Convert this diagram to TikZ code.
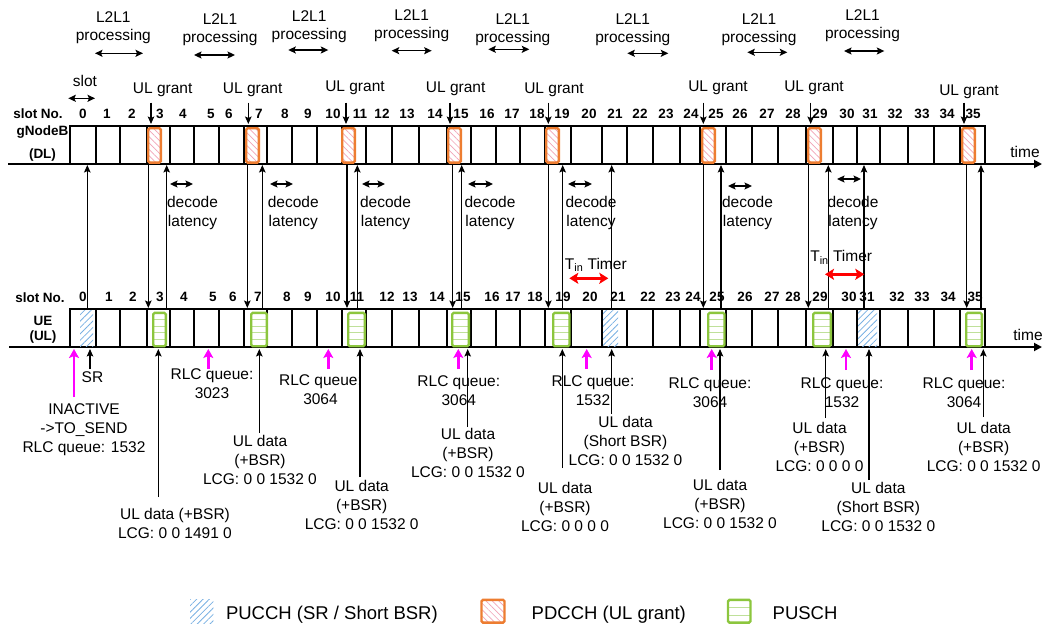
\documentclass[tikz,border=0pt]{standalone}
\usepackage{fontspec}
\setmainfont{Liberation Sans}
\usetikzlibrary{arrows.meta,patterns.meta}
\definecolor{pdorange}{HTML}{ED7D31}
\definecolor{pdpink}{HTML}{F2A3B7}
\definecolor{pugreen}{HTML}{8CC63E}
\definecolor{pulight}{HTML}{BFE09A}
\definecolor{pcblue}{HTML}{78B0E2}
\definecolor{qmag}{HTML}{FF00FF}
\definecolor{tred}{HTML}{FF0000}
\newcommand\pdcchbox[4]{\draw[pdcch] (#1,#2) rectangle (#3,#4);}
\newcommand\puschbox[5]{%
  \fill[white] (#1,#2) rectangle (#3,#4);
  \foreach \q in {1,...,#5}{\draw[pulight,line width=1pt] (#1,{#2+\q*(#4-#2)/(#5+1)}) -- (#3,{#2+\q*(#4-#2)/(#5+1)});}
  \draw[pusch] (#1,#2) rectangle (#3,#4);}
\newcommand\pucchbox[4]{\path[pucch] (#1,#2) rectangle (#3,#4);}
\def\bounds{70,95.5,120,146.7,170,194,218.7,244,267,292,316.7,341.5,366,391.7,419,446.7,471,495.7,520,545,570.5,601.7,626.7,653,680,700,726,751.7,777.7,805.5,832.5,856.7,880,907.7,934,959.5,985}
\begin{document}
\begin{tikzpicture}[x=1pt,y=-1pt,
  every node/.style={inner sep=0pt,outer sep=0pt},
  txt/.style={font=\fontsize{15.5}{19}\selectfont,align=center},
  bold/.style={font=\bfseries\fontsize{13.5}{16}\selectfont},
  legtxt/.style={font=\fontsize{18.5}{20}\selectfont,anchor=base west},
  grid/.style={line width=2pt},
  axis/.style={line width=1.8pt,-{Triangle[length=8pt,width=8pt]}},
  conn/.style={line width=1.3pt,-{Stealth[length=7.5pt,width=6.5pt,inset=1.5pt]}},
  dbl/.style={line width=1.4pt,{Stealth[length=7.5pt,width=7pt,inset=1.5pt]}-{Stealth[length=7.5pt,width=7pt,inset=1.5pt]}},
  magarr/.style={draw=qmag,line width=2.8pt,-{Stealth[length=9pt,width=10pt,inset=2pt]}},
  redarr/.style={draw=tred,line width=2.8pt,{Stealth[length=9pt,width=11pt,inset=2pt]}-{Stealth[length=9pt,width=11pt,inset=2pt]}},
  pdcch/.style={draw=pdorange,line width=2.4pt,rounded corners=1.5pt,preaction={fill=white},pattern={Lines[angle=-45,distance=4.5pt,line width=0.7pt]},pattern color=pdpink},
  pusch/.style={draw=pugreen,line width=2.4pt,rounded corners=1.5pt},
  pucch/.style={pattern={Lines[angle=45,distance=4.5pt,line width=0.8pt]},pattern color=pcblue},
]
\useasboundingbox (0,0) rectangle (1045,624);

% ---- slot grids and axes
\foreach \b in \bounds {\draw[grid] (\b,126) -- (\b,164); \draw[grid] (\b,309) -- (\b,347);}
\draw[grid] (69,126) -- (986,126);
\draw[grid] (69,309) -- (986,309);
\coordinate (dlA) at (8,164); \coordinate (dlB) at (1042,164);
\coordinate (ulA) at (9,347); \coordinate (ulB) at (1042,347);
\draw[axis] (dlA) -- (dlB);
\draw[axis] (ulA) -- (ulB);
\node[txt] (timeDL) at (1025,152) {time};
\node[txt] (timeUL) at (1028,335) {time};

% ---- row labels
\node[bold] (slotDL) at (38,113.8) {slot No.};
\node[bold] (slotUL) at (40,297.2) {slot No.};
\node[bold] (gnb) at (42.5,132) {gNodeB};
\node[bold] (gnbdl) at (42.5,155) {(DL)};
\node[bold] (ue) at (43,321) {UE};
\node[bold] (ueul) at (43,337.5) {(UL)};

\foreach \n/\x in {0/83,1/107,2/132,3/160,4/183,5/211,6/229,7/259,8/285,9/308,10/333,11/360,12/382,13/407,14/435,15/461,16/487,17/512,18/537,19/562,20/589,21/615,22/640,23/666,24/691,25/716,26/740,27/767,28/793,29/820,30/847,31/870,32/895,33/922,34/947,35/973}
  {\node[bold] (dn\n) at (\x,113.8) {\n};}
\foreach \n/\x in {0/83,1/109,2/133,3/160,4/184,5/213,6/233,7/258,8/287,9/308,10/333,11/357,12/387,13/410,14/437,15/463,16/492,17/513,18/535,19/563,20/590,21/618,22/648,23/673,24/693,25/717,26/745,27/772,28/793,29/820,30/849,31/867,32/897,33/922,34/948,35/975}
  {\node[bold] (un\n) at (\x,297.2) {\n};}

% ---- slot duration
\node[txt] (slotlbl) at (85,80.5) {slot};
\coordinate (sla) at (68.3,98.3); \coordinate (slb) at (95,98.3);
\draw[dbl] (sla) -- (slb);

% ---- L2L1 processing
\foreach \i/\x/\ym/\xa/\xb/\ay in {1/113.3/27.2/95/143/53.3, 2/220/30/194/235/55, 3/309.2/26.2/288.3/328.3/50, 4/411.7/25.8/391.7/431.7/50.7, 5/512.8/29.2/488.3/529.3/49.3, 6/632.8/30/627.3/668.3/53.3, 7/759/29.2/747.3/787.3/52.3, 8/862.5/25.8/844/884.3/51}{
  \node[txt,font=\fontsize{15.5}{18}\selectfont] (l2\i) at (\x,\ym) {L2L1\\processing};
  \coordinate (pa\i) at (\xa,\ay); \coordinate (pb\i) at (\xb,\ay);
  \draw[dbl] (pa\i) -- (pb\i);
}

% ---- PUCCH (SR / short BSR)
\pucchbox{80}{310.5}{93}{346}
\pucchbox{603}{310.5}{618}{346}
\pucchbox{858}{310.5}{877}{346}
\coordinate (sr0a) at (87.3,309); \coordinate (sr0b) at (87.3,165);
\draw[conn] (sr0a) -- (sr0b);
\coordinate (sb21a) at (611.7,309); \coordinate (sb21b) at (611.7,165);
\draw[conn] (sb21a) -- (sb21b);
\coordinate (sb31a) at (864,309); \coordinate (sb31b) at (864,165);
\draw[conn] (sb31a) -- (sb31b);

% ---- grants and PUSCH
\foreach \k/\ox/\gxa/\gxb/\dx/\ux/\gx/\gy/\ax in {
 3/147/152/167/148.3/166.7/162.7/90/151,
 7/245/250/268/247.3/262.3/252.7/90/248.3,
 11/341/347/366/347/357.3/355/88/346,
 15/447/451/470/452.7/461.7/455.7/89/450,
 19/545/552/570.7/548.3/562.7/554/90/548.3,
 25/701/707/725.7/703.3/721/718/88/703.3,
 29/807/812/832/808.3/828.3/814/88/810.7,
 35/961/965/983/966.7/981/969/92/964}{
  \pdcchbox{\ox+1.2}{128.2}{\ox+13.8}{162.6}
  \puschbox{\gxa+1.2}{312.8}{\gxb-1.2}{346.2}{4}
  \coordinate (gtop\k) at (\dx,165);
  \coordinate (gbot\k) at (\dx,308);
  \draw[conn] (gtop\k) -- (gbot\k);
  \coordinate (ubot\k) at (\ux,309);
  \coordinate (utop\k) at (\ux,165);
  \draw[conn] (ubot\k) -- (utop\k);
  \node[txt] (ulg\k) at (\gx,\gy) {UL grant};
  \coordinate (ga\k) at (\ax,102.5);
  \coordinate (gb\k) at (\ax,124);
  \draw[conn] (ga\k) -- (gb\k);
}

% ---- decode latency
\foreach \i/\xa/\xb/\ay/\lx in {1/170/193/184/192.5, 2/270/293/184/293.3, 3/362/385/184/385.5, 4/468/493/184/490, 5/568/592/184/591, 6/728/752/186/747.5, 7/837/861/179/853}{
  \coordinate (da\i) at (\xa,\ay); \coordinate (db\i) at (\xb,\ay);
  \draw[dbl] (da\i) -- (db\i);
  \node[txt] (dec\i) at (\lx,212.5) {decode\\latency};
}

% ---- Tin timers
\node[txt,anchor=base] (tin1) at (595.8,269) {T\textsubscript{in} Timer};
\coordinate (ta1) at (569.3,278.3); \coordinate (tb1) at (608.3,278.3);
\draw[redarr] (ta1) -- (tb1);
\node[txt,anchor=base] (tin2) at (841.2,261.7) {T\textsubscript{in} Timer};
\coordinate (ta2) at (825,274.3); \coordinate (tb2) at (864.3,274.3);
\draw[redarr] (ta2) -- (tb2);

% ---- magenta (RLC queue) arrows
\foreach \i/\mx/\my in {0/74/397, 1/208.3/369, 2/328.3/369, 3/458.3/369, 4/586.7/369, 5/711.7/370, 6/846/370, 7/971.7/370}{
  \coordinate (ma\i) at (\mx,\my); \coordinate (mb\i) at (\mx,349);
  \draw[magarr] (ma\i) -- (mb\i);
}
\node[txt] (inact) at (84,430) {INACTIVE\\->TO\_SEND\\RLC queue: 1532};
\coordinate (sra) at (90,369); \coordinate (srb) at (90,349);
\draw[conn] (sra) -- (srb);
\node[txt] (srl) at (92.5,377) {SR};
\node[txt] (rq1) at (212,384) {RLC queue:\\3023};
\node[txt] (rq2) at (320.5,390) {RLC queue:\\3064};
\node[txt] (rq3) at (458.8,390.5) {RLC queue:\\3064};
\node[txt] (rq4) at (593,390.5) {RLC queue:\\1532};
\node[txt] (rq5) at (710,392.5) {RLC queue:\\3064};
\node[txt] (rq6) at (842,392.5) {RLC queue:\\1532};
\node[txt] (rq7) at (964,392.5) {RLC queue:\\3064};

% ---- UL data arrows and labels
\foreach \i/\x/\y in {3/158.3/497, 7/259.3/433, 11/360/477, 15/467.7/427, 19/562.3/468, 21/611.7/414, 25/720/470, 29/825.7/418, 31/869/480, 35/983.3/417}{
  \coordinate (ua\i) at (\x,\y); \coordinate (ub\i) at (\x,349);
  \draw[conn] (ua\i) -- (ub\i);
}
\node[txt] (dat3) at (175,523.3) {UL data (+BSR)\\LCG: 0 0 1491 0};
\node[txt] (dat7) at (260,460) {UL data\\(+BSR)\\LCG: 0 0 1532 0};
\node[txt] (dat11) at (361.7,504.7) {UL data\\(+BSR)\\LCG: 0 0 1532 0};
\node[txt] (dat15) at (468,453.3) {UL data\\(+BSR)\\LCG: 0 0 1532 0};
\node[txt] (dat19) at (565,507.3) {UL data\\(+BSR)\\LCG: 0 0 0 0};
\node[txt] (dat21) at (625.5,441.3) {UL data\\(Short BSR)\\LCG: 0 0 1532 0};
\node[txt] (dat25) at (720,503.6) {UL data\\(+BSR)\\LCG: 0 0 1532 0};
\node[txt] (dat29) at (819.5,446.7) {UL data\\(+BSR)\\LCG: 0 0 0 0};
\node[txt] (dat31) at (878.3,507.3) {UL data\\(Short BSR)\\LCG: 0 0 1532 0};
\node[txt] (dat35) at (983.7,446.7) {UL data\\(+BSR)\\LCG: 0 0 1532 0};

% ---- legend
\pucchbox{190}{599}{213.3}{623.5}
\node[legtxt] (leg1) at (226,619) {PUCCH (SR / Short BSR)};
\pdcchbox{481.5}{599.8}{504.5}{622.6}
\node[legtxt] (leg2) at (531.7,619) {PDCCH (UL grant)};
\puschbox{728}{599.8}{750.5}{622.6}{2}
\node[legtxt] (leg3) at (772.7,619) {PUSCH};
\end{tikzpicture}
\end{document}
